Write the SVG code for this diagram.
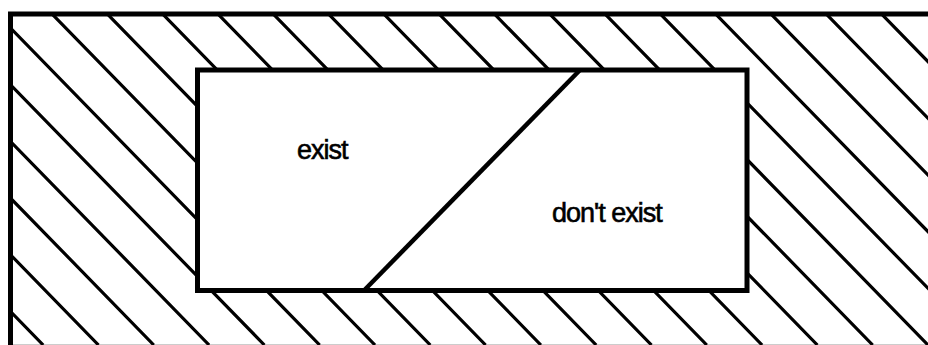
<svg xmlns="http://www.w3.org/2000/svg" width="928" height="345" viewBox="0 0 928 345">
<style>
.hatch{fill:none;stroke:#000;stroke-width:3.2}
.border{fill:none;stroke:#000;stroke-width:5}
.inner{fill:#fff;stroke:#000;stroke-width:5}
.label{font-family:"Liberation Sans",Arial,sans-serif;font-size:27px;fill:#000;stroke:#000;stroke-width:0.6;letter-spacing:-1px}
</style>
<defs>
<clipPath id="outerClip"><rect x="10.5" y="14" width="930" height="333.3"/></clipPath>
</defs>
<rect width="928" height="345" fill="#fff"/>
<g id="hatching" clip-path="url(#outerClip)">
<path class="hatch" d="M-293.4,0L43.2,345M-238.1,0L98.5,345M-182.8,0L153.8,345M-127.5,0L209.1,345M-72.2,0L264.4,345M-16.9,0L319.7,345M38.4,0L375,345M93.7,0L430.3,345M149,0L485.6,345M204.3,0L540.9,345M259.6,0L596.2,345M314.9,0L651.5,345M370.2,0L706.8,345M425.5,0L762.1,345M480.8,0L817.4,345M536.1,0L872.7,345M591.4,0L928,345M646.7,0L983.3,345M702,0L1038.6,345M757.3,0L1093.9,345M812.6,0L1149.2,345M867.9,0L1204.5,345M923.2,0L1259.8,345"/>
</g>
<g id="outer">
<rect class="border" x="10.5" y="14" width="930" height="333.3"/>
</g>
<g id="inner">
<rect class="inner" x="197.5" y="70" width="549.5" height="220.5"/>
</g>
<g id="divider">
<line x1="580" y1="70" x2="364" y2="290.5" stroke="#000" stroke-width="4.5"/>
</g>
<g id="label-exist">
<text class="label" x="297" y="159">exist</text>
</g>
<g id="label-dont-exist">
<text class="label" x="552" y="222">don't exist</text>
</g>
</svg>
